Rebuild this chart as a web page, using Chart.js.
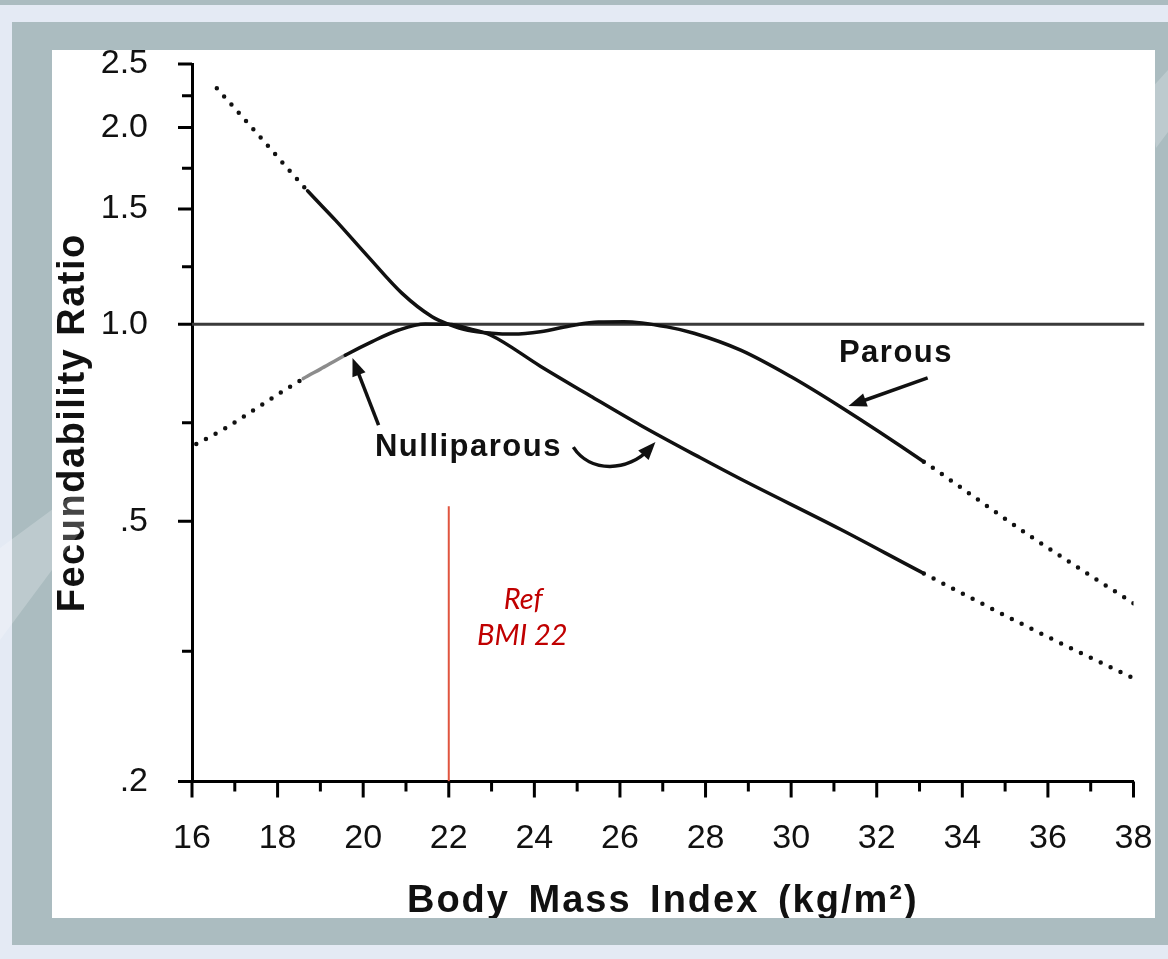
<!DOCTYPE html>
<html>
<head>
<meta charset="utf-8">
<script src="https://cdn.jsdelivr.net/npm/chart.js@4.4.1/dist/chart.umd.min.js"></script>
<style>
  html, body { margin: 0; padding: 0; }
  body { width: 1168px; height: 959px; background: #abbcc0; position: relative; overflow: hidden; }
  .slide { position: absolute; left: 0; top: 5px; right: 0; bottom: 0; background: #e4eaf4; }
  .frame { position: absolute; left: 12px; top: 22px; width: 1156px; height: 923px; background: #abbcc0; }
  .panel { position: absolute; left: 52px; top: 50px; width: 1103px; height: 868px; background: #fff; overflow: hidden; }
  .mark { position: absolute; left: 0; top: 0; width: 1168px; height: 959px; pointer-events: none;
          background: rgba(255, 255, 255, 0.22); }
  .mark.left { clip-path: polygon(0px 548px, 95px 478px, 95px 512px, 0px 640px); }
  .mark.right { clip-path: polygon(1148px 92px, 1168px 70px, 1168px 132px, 1156px 148px); }
  canvas { display: block; }
</style>
</head>
<body>
<div class="slide"></div>
<div class="frame"></div>
<div class="panel"><canvas id="chart" width="1103" height="890" style="width:1103px;height:890px"></canvas></div>
<div class="mark left"></div>
<div class="mark right"></div>
<script>
// --- Data ---

// axis ticks
const bmiTicks = [16, 18, 20, 22, 24, 26, 28, 30, 32, 34, 36, 38];
const ratioTicks = [0.2, 0.5, 1.0, 1.5, 2.0, 2.5];
const ratioLabels = ['.2', '.5', '1.0', '1.5', '2.0', '2.5'];

// Parous curve
const parousBmi = [16.58, 17.6, 18.7, 19.35, 20.12, 20.91, 21.61, 22.0, 22.45, 23.0, 23.5, 24.14, 24.92, 25.5, 26.09, 27.1, 27.73, 28.82, 29.99, 31.15, 33.1, 35.63, 38.0];
const parousRatio = [2.296, 1.931, 1.60, 1.443, 1.268, 1.115, 1.027, 1.0, 0.979, 0.969, 0.966, 0.974, 0.997, 1.008, 1.009, 0.991, 0.969, 0.913, 0.832, 0.748, 0.6165, 0.4724, 0.3744];
const parousSolid = [18.7, 33.1];

// Nulliparous curve
const nulliBmi = [16.1, 16.8, 17.6, 18.6, 19.0, 19.58, 20.21, 20.83, 21.45, 22.0, 22.5, 22.97, 24.14, 25.31, 26.48, 27.88, 28.82, 31.15, 33.1, 35.63, 38.0];
const nulliRatio = [0.656, 0.695, 0.751, 0.826, 0.854, 0.897, 0.941, 0.980, 1.001, 1.0, 0.984, 0.963, 0.863, 0.777, 0.701, 0.625, 0.580, 0.486, 0.416, 0.342, 0.2876];
const nulliSolid = [18.6, 33.1];
const nulliFaded = [18.6, 19.58];

// reference lines
const refLineBmi = [16, 38.25];
const refLineRatio = [1, 1];
const refMarkBmi = [22, 22];
const refMarkRatio = [0.2, 0.527];

// --- Annotations (data coordinates) ---
const notes = [
  { text: 'Parous', x: 32.45, y: 0.901 },
  { text: 'Nulliparous', x: 22.46, y: 0.648 }
];
const arrows = [
  { from: [33.19, 0.828], to: [31.34, 0.750] },
  { from: [20.36, 0.701], to: [19.75, 0.888] }
];
const curvedArrow = [[24.91, 0.649], [25.3, 0.592], [26.2, 0.595], [26.83, 0.661]];
const refNote = [
  { text: 'Ref', x: 23.74, y: 0.367 },
  { text: 'BMI 22', x: 23.72, y: 0.3234 }
];

const toPoints = (xs, ys) => xs.map((x, i) => ({ x, y: ys[i] }));
const outside = (ctx, range) => ctx.p0.parsed.x < range[0] - 1e-6 || ctx.p1.parsed.x > range[1] + 1e-6;
const inside = (ctx, range) => ctx.p0.parsed.x >= range[0] - 1e-6 && ctx.p1.parsed.x <= range[1] + 1e-6;

const curveSegment = (solid, faded) => ({
  borderDash: ctx => outside(ctx, solid) ? [0, 11] : [],
  borderWidth: ctx => outside(ctx, solid) ? 4.5 : 3.5,
  borderColor: ctx => (faded && inside(ctx, faded)) ? '#8c8c8c' : '#111'
});

const font = 'Liberation Sans, Arial, Helvetica, sans-serif';

// Draws tick marks, axis titles, labels and arrows
const decor = {
  id: 'decor',
  afterDraw(chart) {
    const { ctx, chartArea: a, scales: { x, y } } = chart;
    const px = v => x.getPixelForValue(v);
    const py = v => y.getPixelForValue(v);
    ctx.save();

    // tick marks
    ctx.strokeStyle = '#000';
    ctx.lineWidth = 3;
    ctx.lineCap = 'butt';
    ctx.beginPath();
    ratioTicks.forEach(v => { ctx.moveTo(a.left - 14, py(v)); ctx.lineTo(a.left, py(v)); });
    for (let i = 1; i < ratioTicks.length; i++) {
      const m = py(Math.sqrt(ratioTicks[i - 1] * ratioTicks[i]));
      ctx.moveTo(a.left - 10, m); ctx.lineTo(a.left, m);
    }
    for (let v = bmiTicks[0]; v <= bmiTicks[bmiTicks.length - 1]; v++) {
      const len = bmiTicks.includes(v) ? 16 : 10;
      ctx.moveTo(px(v), a.bottom); ctx.lineTo(px(v), a.bottom + len);
    }
    ctx.stroke();

    // axis titles
    ctx.fillStyle = '#111';
    ctx.font = 'bold 38px ' + font;
    ctx.textAlign = 'center';
    ctx.textBaseline = 'alphabetic';
    ctx.letterSpacing = '2px';
    ctx.wordSpacing = '6px';
    ctx.fillText('Body Mass Index (kg/m²)', (a.left + a.right) / 2, 862);
    ctx.wordSpacing = '0px';
    ctx.letterSpacing = '1.5px';
    ctx.save();
    ctx.translate(32, (a.top + a.bottom) / 2);
    ctx.rotate(-Math.PI / 2);
    ctx.fillText('Fecundability Ratio', 0, 0);
    ctx.restore();

    // curve labels
    ctx.font = 'bold 31px ' + font;
    ctx.letterSpacing = '1.5px';
    ctx.textBaseline = 'middle';
    notes.forEach(n => ctx.fillText(n.text, px(n.x), py(n.y)));
    ctx.letterSpacing = '0px';

    // arrows
    const head = (x0, y0, x1, y1) => {
      const ang = Math.atan2(y1 - y0, x1 - x0);
      ctx.beginPath();
      ctx.moveTo(x1, y1);
      ctx.lineTo(x1 - 18 * Math.cos(ang) + 7 * Math.sin(ang), y1 - 18 * Math.sin(ang) - 7 * Math.cos(ang));
      ctx.lineTo(x1 - 18 * Math.cos(ang) - 7 * Math.sin(ang), y1 - 18 * Math.sin(ang) + 7 * Math.cos(ang));
      ctx.closePath();
      ctx.fill();
    };
    ctx.strokeStyle = '#111';
    ctx.lineWidth = 3.5;
    arrows.forEach(ar => {
      const x0 = px(ar.from[0]), y0 = py(ar.from[1]), x1 = px(ar.to[0]), y1 = py(ar.to[1]);
      const ang = Math.atan2(y1 - y0, x1 - x0);
      ctx.beginPath();
      ctx.moveTo(x0, y0);
      ctx.lineTo(x1 - 12 * Math.cos(ang), y1 - 12 * Math.sin(ang));
      ctx.stroke();
      head(x0, y0, x1, y1);
    });
    const c = curvedArrow.map(p => [px(p[0]), py(p[1])]);
    ctx.beginPath();
    ctx.moveTo(c[0][0], c[0][1]);
    ctx.bezierCurveTo(c[1][0], c[1][1], c[2][0], c[2][1], c[3][0] - 6, c[3][1] + 7);
    ctx.stroke();
    head(c[2][0], c[2][1], c[3][0], c[3][1]);

    // reference label
    ctx.fillStyle = '#c00000';
    ctx.font = 'italic 29px Lato, "Open Sans", sans-serif';
    ctx.textBaseline = 'alphabetic';
    refNote.forEach(n => ctx.fillText(n.text, px(n.x), py(n.y)));

    ctx.restore();
  }
};

new Chart(document.getElementById('chart'), {
  type: 'line',
  data: {
    datasets: [
      {
        data: toPoints(parousBmi, parousRatio),
        borderColor: '#111', borderWidth: 3.5, borderCapStyle: 'round',
        cubicInterpolationMode: 'monotone', pointRadius: 0,
        segment: curveSegment(parousSolid)
      },
      {
        data: toPoints(nulliBmi, nulliRatio),
        borderColor: '#111', borderWidth: 3.5, borderCapStyle: 'round',
        cubicInterpolationMode: 'monotone', pointRadius: 0,
        segment: curveSegment(nulliSolid, nulliFaded)
      },
      {
        data: toPoints(refLineBmi, refLineRatio),
        borderColor: '#3a3a3a', borderWidth: 3, pointRadius: 0, clip: false
      },
      {
        data: toPoints(refMarkBmi, refMarkRatio),
        borderColor: '#e0553f', borderWidth: 2, pointRadius: 0
      }
    ]
  },
  options: {
    responsive: false,
    animation: false,
    devicePixelRatio: 1,
    layout: { padding: { left: 0, right: 21.5, top: 14, bottom: 0 } },
    plugins: { legend: { display: false }, tooltip: { enabled: false } },
    scales: {
      x: {
        type: 'linear', min: 16, max: 38,
        afterBuildTicks: s => { s.ticks = bmiTicks.map(v => ({ value: v })); },
        afterFit: s => { s.height = 158.5; s.paddingLeft = 0; s.paddingRight = 0; },
        grid: { display: false },
        border: { display: true, color: '#000', width: 3 },
        ticks: { color: '#111', padding: 29, maxRotation: 0, autoSkip: false, font: { family: font, size: 34 } }
      },
      y: {
        type: 'logarithmic', min: 0.2, max: 2.5,
        afterBuildTicks: s => { s.ticks = ratioTicks.map(v => ({ value: v })); },
        afterFit: s => { s.width = 140; s.paddingTop = 0; s.paddingBottom = 0; },
        grid: { display: false },
        border: { display: true, color: '#000', width: 3 },
        ticks: {
          color: '#111', padding: 36, autoSkip: false, font: { family: font, size: 34 },
          callback: v => ratioLabels[ratioTicks.indexOf(v)]
        }
      }
    }
  },
  plugins: [decor]
});
</script>
</body>
</html>
